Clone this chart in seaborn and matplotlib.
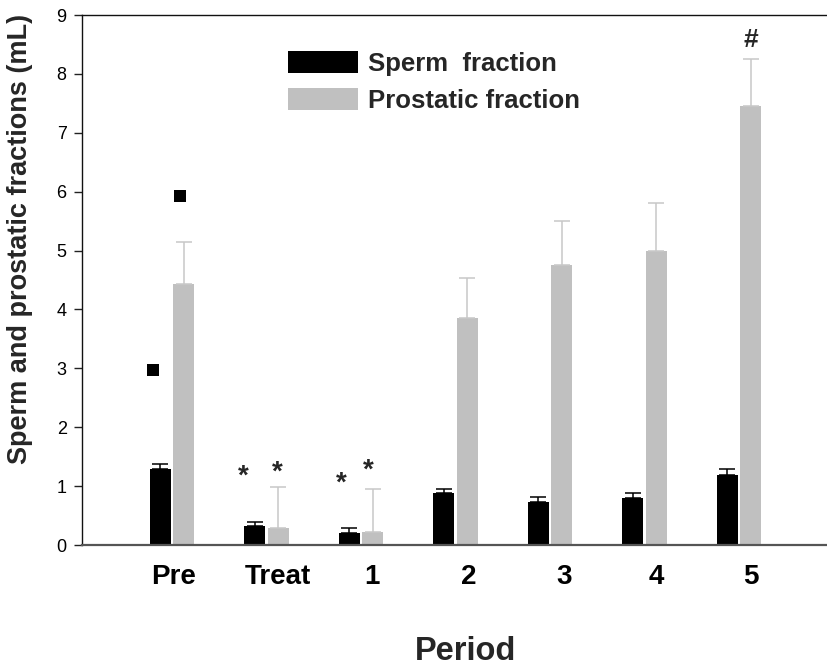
import numpy as np
import pandas as pd
import matplotlib.pyplot as plt
import seaborn as sns

PERIODS = ['Pre', 'Treat', '1', '2', '3', '4', '5']
SERIES = ['Sperm  fraction', 'Prostatic fraction']

sperm = [1.29, 0.32, 0.20, 0.88, 0.73, 0.80, 1.19]
sperm_err = [0.085, 0.07, 0.09, 0.07, 0.085, 0.08, 0.10]
prostatic = [4.44, 0.29, 0.22, 3.85, 4.76, 5.00, 7.46]
prostatic_err = [0.70, 0.69, 0.73, 0.68, 0.75, 0.80, 0.79]

# significance marks (period, series index, height in mL)
square_periods = ['Pre', 'Pre']
square_series = [0, 1]
square_y = [2.97, 5.92]
star_periods = ['Treat', 'Treat', '1', '1']
star_series = [0, 1, 0, 1]
star_y = [1.32, 1.38, 1.19, 1.41]
hash_period = '5'
hash_series = 1
hash_y = 8.62

# layout only: small horizontal nudges (pixels) and tick label shifts
square_dx = [-7.5, -4]
star_dx = [-11, -1, -7.5, -4.5]
tick_shift = [0.02, 0.12, 0.12, 0.14, 0.15, 0.13, 0.13]

sns.set_theme(style='ticks')
plt.rcParams['font.family'] = ['Liberation Sans', 'DejaVu Sans']

fig = plt.figure(figsize=(8.28, 6.67), dpi=100)
ax = fig.add_axes([82 / 828, 122 / 667, 746 / 828, 530 / 667])

df = pd.DataFrame({
    'period': PERIODS * 2,
    'fraction': [SERIES[0]] * len(PERIODS) + [SERIES[1]] * len(PERIODS),
    'value': sperm + prostatic,
})

sns.barplot(data=df, x='period', y='value', hue='fraction', order=PERIODS,
            hue_order=SERIES, palette=['#000000', '#c0c0c0'], saturation=1,
            width=0.5, gap=0.11, errorbar=None, linewidth=0, legend=False, ax=ax)

# one-sided error bars on top of each bar
centers = []
for cont, err, col in zip(ax.containers, [sperm_err, prostatic_err], ['#000000', '#c8c8c8']):
    xs = [p.get_x() + p.get_width() / 2 for p in cont]
    hs = [p.get_height() for p in cont]
    centers.append(xs)
    ax.errorbar(xs, hs, yerr=[np.zeros(len(err)), err], fmt='none', ecolor=col,
                elinewidth=1.1, capsize=6, capthick=1.1, zorder=3)

px = 94.58  # pixels per category step
# squares
sq_x = [centers[s][PERIODS.index(p)] + d / px for p, s, d in zip(square_periods, square_series, square_dx)]
ax.scatter(sq_x, square_y, marker='s', s=64, color='black', linewidths=0, zorder=4)

# asterisks
fs_star = 20
for p, s, y, d in zip(star_periods, star_series, star_y, star_dx):
    ax.annotate('*', xy=(centers[s][PERIODS.index(p)], y), xytext=(d * 0.72, -0.58 * fs_star),
                textcoords='offset points', ha='center', va='baseline',
                fontsize=fs_star, fontweight='bold')
fs_hash = 19
ax.annotate('#', xy=(centers[hash_series][PERIODS.index(hash_period)], hash_y),
            xytext=(0, -0.35 * fs_hash), textcoords='offset points', ha='center',
            va='baseline', fontsize=fs_hash, fontweight='bold')

ax.set_xlim(-0.952, 6.942)
ax.set_ylim(0, 9)
ax.set_yticks(range(10))
ax.set_xticks(np.arange(len(PERIODS)) + np.array(tick_shift), labels=PERIODS)
ax.tick_params(axis='y', length=6, width=1, direction='out', labelsize=13, pad=5,
               color='#222222', labelcolor='black')
ax.tick_params(axis='x', length=0, labelsize=20, pad=14, labelcolor='black')
for lab in ax.get_xticklabels():
    lab.set_fontweight('bold')
ax.set_xlabel('')
ax.set_ylabel('')

ax.spines['right'].set_visible(False)
for side in ['top', 'left']:
    ax.spines[side].set_color('#111111')
    ax.spines[side].set_linewidth(1)
ax.spines['bottom'].set_color('#555555')
ax.spines['bottom'].set_linewidth(1.6)

ax.legend(handles=ax.containers[:2], labels=SERIES, loc='center left',
          bbox_to_anchor=((288 - 82) / 746, (545 - 82) / 530), frameon=False,
          borderpad=0, borderaxespad=0, handlelength=2.72, handleheight=0.93,
          handletextpad=0.4, labelspacing=0.45,
          prop={'family': 'Liberation Sans', 'weight': 'bold', 'size': 18.5})

fig.text(20 / 828, 1 - 239 / 667, 'Sperm and prostatic fractions (mL)', rotation=90,
         ha='center', va='center', fontsize=19.5, fontweight='bold')
fig.text(466 / 828, 1 - 652 / 667, 'Period', ha='center', va='center',
         fontsize=23.5, fontweight='bold')

fig.savefig('out.png', dpi=100)
